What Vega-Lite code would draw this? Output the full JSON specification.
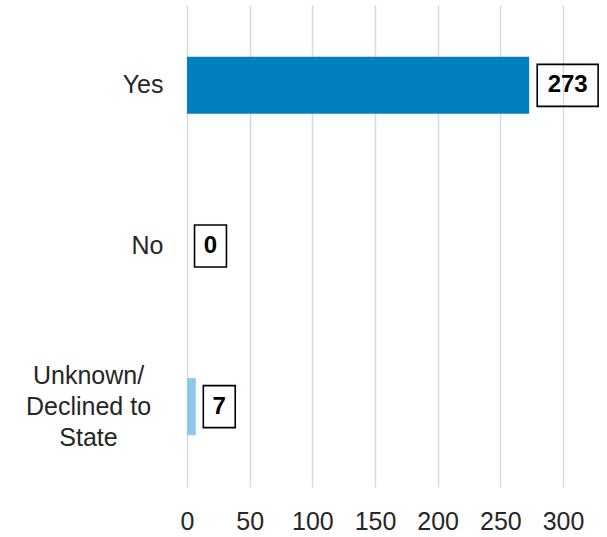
{
  "$schema": "https://vega.github.io/schema/vega-lite/v6.json",
  "width": 376,
  "height": 482,
  "autosize": "none",
  "padding": {"left": 187, "top": 5, "right": 44, "bottom": 50},
  "background": "white",
  "config": {"view": {"stroke": null}},
  "data": {
    "values": [
      {"response": "Yes", "count": 273},
      {"response": "No", "count": 0},
      {"response": "Unknown/Declined to State", "count": 7}
    ]
  },
  "encoding": {
    "y": {
      "field": "response",
      "type": "nominal",
      "sort": null,
      "scale": {"paddingInner": 0.645, "paddingOuter": 0.3225},
      "axis": {
        "title": null,
        "domain": false,
        "ticks": false,
        "grid": false,
        "labelFont": "Liberation Sans",
        "labelFontSize": 25,
        "labelColor": "#262626",
        "labelPadding": 24,
        "labelLineHeight": 31,
        "labelLimit": 300,
        "labelExpr": "datum.value == 'Unknown/Declined to State' ? ['Unknown/', 'Declined to', 'State'] : datum.value",
        "labelAlign": {"condition": {"test": "length(datum.value) > 5", "value": "center"}, "value": "right"},
        "encoding": {
          "labels": {
            "dx": {"condition": {"test": "length(datum.value) > 5", "value": -75}, "value": 0},
            "dy": {"condition": {"test": "length(datum.value) > 5", "value": -31}, "value": 0}
          }
        }
      }
    },
    "x": {
      "field": "count",
      "type": "quantitative",
      "scale": {"domain": [0, 300], "nice": false},
      "axis": {
        "title": null,
        "domain": false,
        "ticks": false,
        "grid": true,
        "gridColor": "#d9d9d9",
        "gridWidth": 1.5,
        "values": [0, 50, 100, 150, 200, 250, 300],
        "labelFlush": false,
        "labelFont": "Liberation Sans",
        "labelFontSize": 25,
        "labelColor": "#262626",
        "labelPadding": 22
      }
    }
  },
  "layer": [
    {
      "mark": {"type": "bar"},
      "encoding": {
        "color": {
          "field": "response",
          "type": "nominal",
          "scale": {
            "domain": ["Yes", "No", "Unknown/Declined to State"],
            "range": ["#0080C0", "#0080C0", "#8DC8EA"]
          },
          "legend": null
        }
      }
    },
    {
      "mark": {
        "type": "point",
        "filled": false,
        "stroke": "black",
        "strokeWidth": 1.6,
        "opacity": 1,
        "size": 1764,
        "shape": {"expr": "datum.count >= 100 ? 'M-1.45,-1H1.45V1H-1.45Z' : 'M-0.76,-1H0.76V1H-0.76Z'"},
        "xOffset": {"expr": "datum.count >= 100 ? 38.5 : 23.5"}
      },
      "encoding": {}
    },
    {
      "mark": {
        "type": "text",
        "font": "Liberation Sans",
        "fontWeight": "bold",
        "fontSize": 24,
        "align": "center",
        "baseline": "middle",
        "color": "black",
        "xOffset": {"expr": "datum.count >= 100 ? 38.5 : 23.5"}
      },
      "encoding": {"text": {"field": "count", "type": "quantitative"}}
    }
  ]
}
